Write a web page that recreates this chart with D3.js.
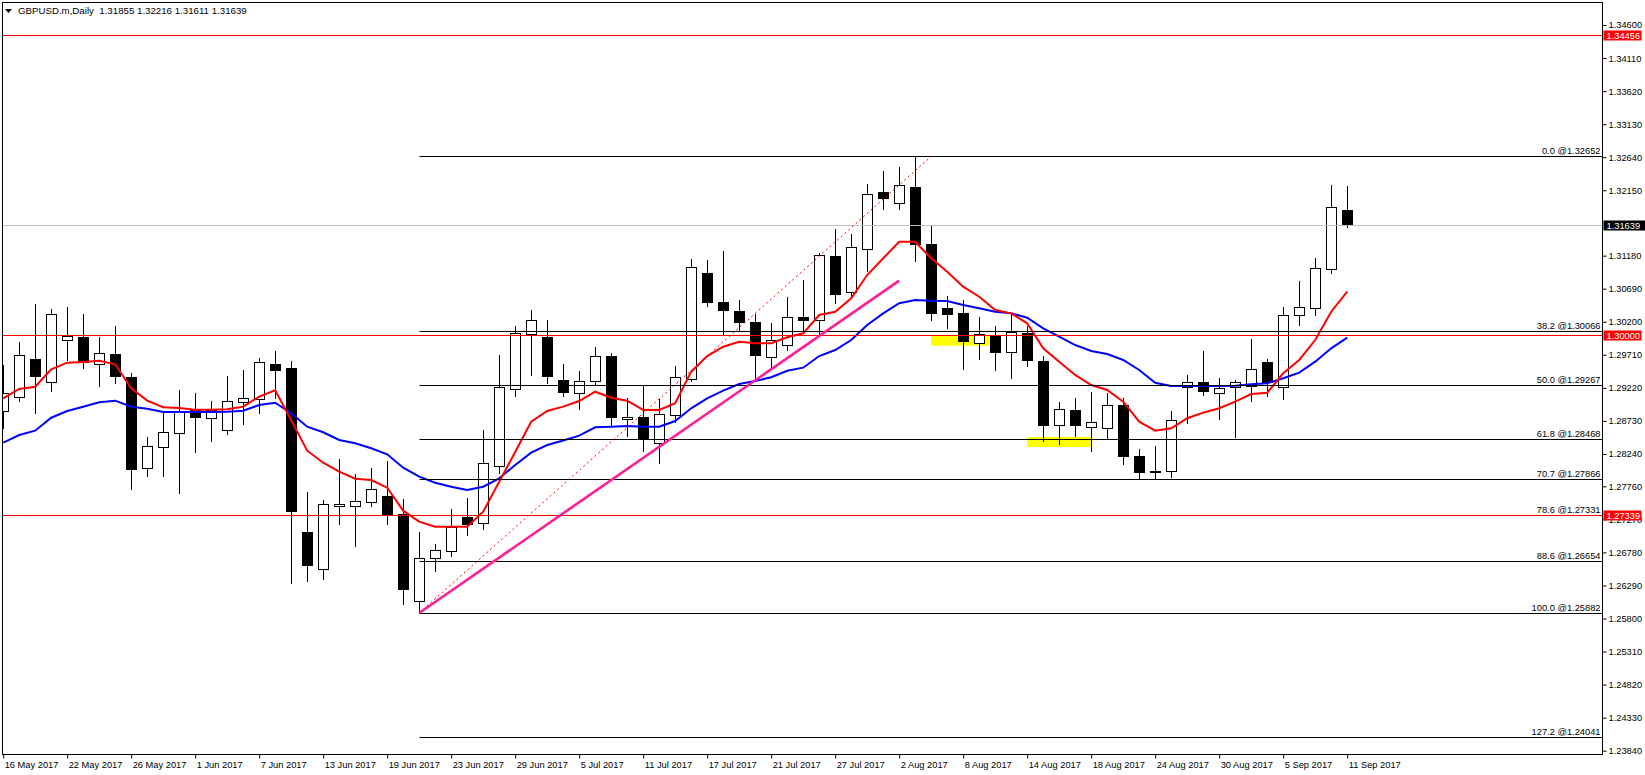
<!DOCTYPE html>
<html><head><meta charset="utf-8">
<script src="https://cdn.jsdelivr.net/npm/d3@7"></script>
<style>
body{margin:0;background:#fff;}
svg{display:block;}
text{font-family:"Liberation Sans",Arial,sans-serif;}
</style>
</head><body>
<svg id="c" width="1645" height="775"></svg>
<script>
// ---------------- data ----------------
const symbolTitle = "GBPUSD.m,Daily  1.31855 1.32216 1.31611 1.31639";
const xTickLabels = ["16 May 2017","22 May 2017","26 May 2017","1 Jun 2017","7 Jun 2017","13 Jun 2017",
  "19 Jun 2017","23 Jun 2017","29 Jun 2017","5 Jul 2017","11 Jul 2017","17 Jul 2017","21 Jul 2017",
  "27 Jul 2017","2 Aug 2017","8 Aug 2017","14 Aug 2017","18 Aug 2017","24 Aug 2017","30 Aug 2017",
  "5 Sep 2017","11 Sep 2017"];
const barsPerXTick = 4;

const opens = [1.28881,1.29089,1.29643,1.29302,1.29925,1.29978,1.29569,1.29718,1.29377,1.28027,
  1.28339,1.28546,1.28892,1.28769,1.28591,1.29006,1.29055,1.29569,1.29510,1.27078,
  1.26530,1.27464,1.27464,1.27523,1.27617,1.27345,1.26055,1.26693,1.26797,1.27310,
  1.27212,1.28061,1.29198,1.30014,1.29978,1.29332,1.29139,1.29317,1.29688,1.28754,
  1.28783,1.28398,1.28813,1.29347,1.30923,1.30493,1.30360,1.30192,1.29673,1.29851,
  1.30266,1.30222,1.31171,1.30637,1.31274,1.32119,1.31956,1.32198,1.31348,1.30400,
  1.30325,1.29881,1.29999,1.29747,1.30029,1.29618,1.28665,1.28887,1.28635,1.28620,
  1.28961,1.28210,1.27983,1.27983,1.29228,1.29302,1.29139,1.29228,1.29252,1.29599,
  1.29228,1.30296,1.30400,1.30978,1.31855];
const highs = [1.29559,1.29900,1.30463,1.30389,1.30419,1.30315,1.29978,1.30137,1.29436,1.28491,
  1.28852,1.29188,1.29139,1.29025,1.29391,1.29485,1.29658,1.29766,1.29614,1.27676,
  1.27557,1.28165,1.27943,1.28032,1.28136,1.27572,1.27078,1.26905,1.27424,1.27582,
  1.28595,1.29707,1.30133,1.30374,1.30226,1.29574,1.29470,1.29826,1.29737,1.29065,
  1.29258,1.29050,1.29544,1.31131,1.31116,1.31249,1.30523,1.30311,1.30182,1.30567,
  1.30819,1.31215,1.31575,1.31501,1.32242,1.32431,1.32495,1.32652,1.31630,1.30582,
  1.30518,1.30271,1.30133,1.30319,1.30133,1.29692,1.29010,1.29074,1.29159,1.29148,
  1.29065,1.28313,1.28362,1.28881,1.29411,1.29766,1.29366,1.29336,1.29944,1.29643,
  1.30419,1.30804,1.31145,1.32228,1.32216];
const lows = [1.28620,1.29030,1.28852,1.29178,1.29633,1.29510,1.29252,1.29296,1.27725,1.27918,
  1.27918,1.27665,1.28273,1.28436,1.28531,1.28689,1.28852,1.29065,1.26322,1.26361,
  1.26390,1.27206,1.26880,1.27473,1.27206,1.26011,1.25882,1.26509,1.26731,1.27043,
  1.27123,1.27958,1.29104,1.29415,1.29296,1.29104,1.28911,1.29273,1.28644,1.28511,
  1.28288,1.28101,1.28718,1.29326,1.30438,1.30023,1.30078,1.29336,1.29510,1.29781,
  1.30053,1.30004,1.30483,1.30571,1.30957,1.31876,1.31876,1.31105,1.30222,1.30112,
  1.29504,1.29652,1.29489,1.29371,1.29548,1.28436,1.28392,1.28502,1.28288,1.28457,
  1.28086,1.27864,1.27864,1.27903,1.28703,1.29118,1.28763,1.28496,1.29030,1.29104,
  1.29059,1.30156,1.30305,1.30918,1.31611];
const closes = [1.29148,1.29703,1.29400,1.30311,1.29989,1.29603,1.29732,1.29400,1.28021,1.28353,
  1.28561,1.28881,1.28783,1.28892,1.29021,1.29065,1.29599,1.29489,1.27390,1.26589,
  1.27493,1.27493,1.27538,1.27716,1.27335,1.26242,1.26693,1.26811,1.27152,1.27197,
  1.28101,1.29228,1.30029,1.30222,1.29391,1.29163,1.29317,1.29688,1.28792,1.28783,
  1.28457,1.28828,1.29377,1.31007,1.30497,1.30379,1.30201,1.29712,1.29925,1.30266,
  1.30231,1.31185,1.30616,1.31304,1.32090,1.32030,1.32223,1.31348,1.30325,1.30311,
  1.29910,1.30014,1.29747,1.30053,1.29628,1.28665,1.28902,1.28665,1.28709,1.28961,
  1.28205,1.27968,1.27968,1.28739,1.29302,1.29169,1.29213,1.29302,1.29495,1.29302,
  1.30296,1.30414,1.30993,1.31897,1.31639];

// fast (red) and slow (blue) moving averages
const maFast = [1.29065,1.29203,1.29237,1.29495,1.29593,1.29603,1.29623,1.29569,1.29213,1.29030,
  1.28932,1.28921,1.28896,1.28896,1.28902,1.28941,1.29089,1.29184,1.28739,1.28288,
  1.28110,1.27977,1.27873,1.27854,1.27740,1.27399,1.27236,1.27161,1.27161,1.27161,
  1.27384,1.27829,1.28269,1.28718,1.28877,1.28941,1.29025,1.29163,1.29074,1.29030,
  1.28892,1.28892,1.28991,1.29460,1.29692,1.29830,1.29904,1.29881,1.29881,1.29970,
  1.30029,1.30300,1.30349,1.30548,1.30893,1.31141,1.31387,1.31387,1.31141,1.30942,
  1.30720,1.30571,1.30374,1.30325,1.30177,1.29806,1.29608,1.29411,1.29262,1.29188,
  1.29015,1.28718,1.28585,1.28620,1.28769,1.28852,1.28917,1.29015,1.29129,1.29148,
  1.29436,1.29633,1.29929,1.30349,1.30646];
const maSlow = [1.28407,1.28521,1.28585,1.28777,1.28877,1.28941,1.29006,1.29030,1.28941,1.28911,
  1.28862,1.28862,1.28862,1.28862,1.28866,1.28881,1.28966,1.29000,1.28843,1.28644,
  1.28561,1.28447,1.28398,1.28324,1.28235,1.28036,1.27903,1.27814,1.27754,1.27706,
  1.27754,1.27879,1.28076,1.28259,1.28373,1.28439,1.28511,1.28635,1.28644,1.28654,
  1.28644,1.28644,1.28728,1.28917,1.29065,1.29178,1.29277,1.29322,1.29377,1.29474,
  1.29519,1.29692,1.29781,1.29929,1.30152,1.30325,1.30474,1.30523,1.30512,1.30508,
  1.30448,1.30400,1.30349,1.30325,1.30260,1.30103,1.29978,1.29855,1.29766,1.29722,
  1.29633,1.29485,1.29296,1.29247,1.29247,1.29247,1.29247,1.29252,1.29273,1.29287,
  1.29362,1.29445,1.29608,1.29806,1.29964];

// visible price-axis labels (1.31670 is hidden behind the bid box in the reference)
const yTickValues = [1.34600,1.34110,1.33620,1.33130,1.32640,1.32150,1.31180,1.30690,1.30200,
  1.29710,1.29220,1.28730,1.28240,1.27760,1.27270,1.26780,1.26290,1.25800,1.25310,1.24820,1.24330,1.23840];

const fibRatios = ["0.0","38.2","50.0","61.8","70.7","78.6","88.6","100.0","127.2"];
const fibPrices = [1.32652,1.30066,1.29267,1.28468,1.27866,1.27331,1.26654,1.25882,1.24041];
const fibFromBar = 26, fibToBar = 58;           // fibonacci anchors (bar index)

const redLevels = [1.34456,1.30000,1.27339];
const bidPrice = 1.31639;

const trendFrom = {bar:26, price:1.25882};
const trendTo = {bar:56, price:1.30809};

const zoneFrom = [58,64], zoneTo = [62,68];
const zoneTop = [1.30003,1.28491], zoneBottom = [1.29845,1.28343];

// ---------------- drawing ----------------
const svg = d3.select("#c");
const FS = 9.3;
const L = 2.5, T = 2.5, R = 1602.5, B = 754.5;

const x = d3.scaleLinear().domain([0, closes.length - 1]).range([3.2, 3.2 + 16 * (closes.length - 1)]);
const y = d3.scaleLinear().domain([1.23840, 1.34600]).range([750.7, 25]);
const px = v => Math.round(v) + 0.5;

svg.append("rect").attr("width",1645).attr("height",775).attr("fill","#fff");

svg.append("defs").append("clipPath").attr("id","clip")
  .append("rect").attr("x",L+0.5).attr("y",T+0.5).attr("width",R-L-1).attr("height",B-T-1);

const g = svg.append("g").attr("clip-path","url(#clip)");

// yellow zones (background)
g.selectAll("rect.zone").data(zoneFrom).join("rect")
  .attr("x",(d,i)=>x(d)).attr("width",(d,i)=>x(zoneTo[i])-x(d))
  .attr("y",(d,i)=>y(zoneTop[i])).attr("height",(d,i)=>y(zoneBottom[i])-y(zoneTop[i]))
  .attr("fill","#ffff00");

// candles
const idx = d3.range(closes.length);
g.selectAll("line.wick").data(idx).join("line")
  .attr("x1",i=>px(x(i))).attr("x2",i=>px(x(i)))
  .attr("y1",i=>Math.round(y(highs[i]))).attr("y2",i=>Math.round(y(lows[i]))+1)
  .attr("stroke","#000").attr("stroke-width",1);
g.selectAll("rect.body").data(idx).join("rect")
  .attr("x",i=>px(x(i))-5).attr("width",10)
  .attr("y",i=>px(y(Math.max(opens[i],closes[i]))))
  .attr("height",i=>Math.max(1, px(y(Math.min(opens[i],closes[i]))) - px(y(Math.max(opens[i],closes[i])))))
  .attr("fill",i=>closes[i] < opens[i] ? "#000" : "#fff")
  .attr("stroke","#000").attr("stroke-width",1);

// moving averages
const maLine = arr => d3.line().x((d,i)=>x(i)).y(d=>y(d))(arr);
g.append("path").attr("d",maLine(maSlow)).attr("fill","none").attr("stroke","#0000ff").attr("stroke-width",2);
g.append("path").attr("d",maLine(maFast)).attr("fill","none").attr("stroke","#ff0000").attr("stroke-width",2);

// bid line
g.append("line").attr("x1",L).attr("x2",R).attr("y1",px(y(bidPrice))).attr("y2",px(y(bidPrice)))
  .attr("stroke","#c0c0c0").attr("stroke-width",1);

// fibonacci levels
g.selectAll("line.fib").data(fibPrices).join("line")
  .attr("x1",px(x(fibFromBar))).attr("x2",R)
  .attr("y1",d=>px(y(d))).attr("y2",d=>px(y(d)))
  .attr("stroke","#000").attr("stroke-width",1);
g.append("line")
  .attr("x1",x(fibFromBar)).attr("y1",y(fibPrices[fibPrices.length-2]))
  .attr("x2",x(fibToBar)).attr("y2",y(fibPrices[0]))
  .attr("stroke","#ff0000").attr("stroke-width",1).attr("stroke-dasharray","2,3");

// red horizontal levels
g.selectAll("line.red").data(redLevels).join("line")
  .attr("x1",L).attr("x2",R).attr("y1",d=>px(y(d))).attr("y2",d=>px(y(d)))
  .attr("stroke","#ff0000").attr("stroke-width",1);

// pink trendline
g.append("line")
  .attr("x1",x(trendFrom.bar)).attr("y1",y(trendFrom.price))
  .attr("x2",x(trendTo.bar)).attr("y2",y(trendTo.price))
  .attr("stroke","#ff1e96").attr("stroke-width",2.6);

// fib labels
svg.selectAll("text.fib").data(fibPrices).join("text")
  .attr("x",R-2).attr("y",d=>px(y(d))-2.5)
  .attr("text-anchor","end").attr("font-size",FS).attr("fill","#000")
  .text((d,i)=>fibRatios[i]+" @"+d3.format(".5f")(d));

// frame
svg.append("rect").attr("x",L).attr("y",T).attr("width",R-L).attr("height",B-T)
  .attr("fill","none").attr("stroke","#000").attr("stroke-width",1);

// right axis
const ya = svg.append("g").attr("transform",`translate(${R},0)`)
  .call(d3.axisRight(y).tickValues(yTickValues).tickSize(4).tickPadding(2).tickFormat(d3.format(".5f")));
ya.select(".domain").remove();
ya.selectAll(".tick line").attr("stroke","#000");
ya.selectAll("text").attr("font-size",FS).attr("font-family","Liberation Sans, Arial, sans-serif").attr("fill","#000");

// bottom axis
const xa = svg.append("g").attr("transform",`translate(0,${B})`)
  .call(d3.axisBottom(x).tickValues(xTickLabels.map((d,i)=>i*barsPerXTick)).tickSize(4).tickPadding(3)
    .tickFormat((d,i)=>xTickLabels[i]));
xa.select(".domain").remove();
xa.selectAll(".tick line").attr("stroke","#000");
xa.selectAll("text").attr("font-size",FS).attr("font-family","Liberation Sans, Arial, sans-serif")
  .attr("text-anchor","start").attr("dx",1).attr("fill","#000");

// price boxes
const boxes = redLevels.map(v=>({v, fill:"#ff0000", w:38})).concat([{v:bidPrice, fill:"#000", w:42}]);
const bg = svg.selectAll("g.box").data(boxes).join("g");
bg.append("rect").attr("x",R+1).attr("y",d=>Math.round(y(d.v))-4.5).attr("width",d=>d.w).attr("height",10)
  .attr("fill",d=>d.fill);
bg.append("text").attr("x",R+4).attr("y",d=>Math.round(y(d.v))+0.5).attr("dy","0.35em")
  .attr("font-size",FS).attr("fill","#fff").text(d=>d3.format(".5f")(d.v));

// title
svg.append("path").attr("d","M5,9L12,9L8.5,13Z").attr("fill","#000");
svg.append("text").attr("x",18).attr("y",14).attr("font-size",FS+0.4).attr("fill","#000")
  .attr("xml:space","preserve").style("white-space","pre").text(symbolTitle);
</script>
</body></html>
